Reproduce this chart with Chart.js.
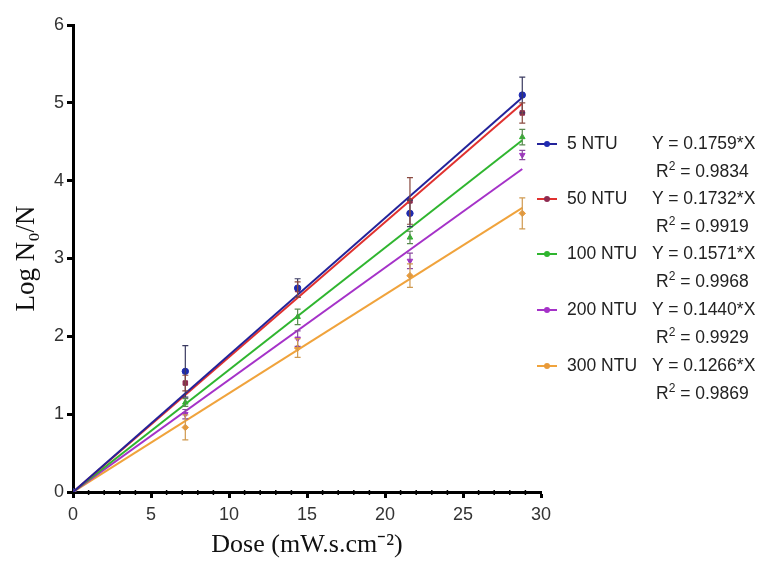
<!DOCTYPE html>
<html>
<head>
<meta charset="utf-8">
<script src="https://cdn.jsdelivr.net/npm/chart.js@4.4.1/dist/chart.umd.min.js"></script>
<style>
  html, body { margin: 0; padding: 0; background: #fff; }
  #wrap { position: relative; width: 759px; height: 565px; }
  #c { position: absolute; left: 0; top: 0; }
  .leg { position: absolute; font-family: "Liberation Sans", Arial, sans-serif; font-size: 17.5px; color: #222; white-space: nowrap; }
  .mk { position: absolute; width: 20px; height: 2px; }
  .dot { position: absolute; width: 6px; height: 6px; border-radius: 50%; left: 7px; top: -2px; }
  sup { font-size: 12px; vertical-align: 7px; line-height: 0; }
</style>
</head>
<body>
<div id="wrap">
  <canvas id="c" width="759" height="565"></canvas>
  <div id="legend"></div>
</div>
<script>
// ---- data ----
const doses   = [0, 7.2, 14.4, 21.6, 28.8];
const seriesNames = ["5 NTU", "50 NTU", "100 NTU", "200 NTU", "300 NTU"];
const ntu5    = [0, 1.55, 2.62, 3.58, 5.10];
const ntu50   = [0, 1.40, 2.60, 3.74, 4.87];
const ntu100  = [0, 1.15, 2.25, 3.27, 4.56];
const ntu200  = [0, 1.00, 1.97, 2.97, 4.33];
const ntu300  = [0, 0.83, 1.85, 2.78, 3.58];
const err5    = [0, 0.33, 0.12, 0.17, 0.23];
const err50   = [0, 0.10, 0.10, 0.30, 0.13];
const err100  = [0, 0.05, 0.10, 0.08, 0.10];
const err200  = [0, 0.06, 0.10, 0.10, 0.06];
const err300  = [0, 0.16, 0.12, 0.15, 0.20];
const fitX    = [0, 28.8];
const fitEnd  = [5.07, 4.99, 4.52, 4.15, 3.65];
const equations = ["Y = 0.1759*X", "Y = 0.1732*X", "Y = 0.1571*X", "Y = 0.1440*X", "Y = 0.1266*X"];
const r2Values  = ["0.9834", "0.9919", "0.9968", "0.9929", "0.9869"];
const xTicks = [0, 5, 10, 15, 20, 25, 30];
const yTicks = [0, 1, 2, 3, 4, 5, 6];

// ---- styling ----
const lineColors  = ["#23239a", "#e0312f", "#2fb52f", "#a532c8", "#f0a33c"];
const pointColors = ["#1f2bb0", "#8e2a50", "#2fb52f", "#a532c8", "#e89a3a"];
const barColors   = ["#3a3a60", "#8a4a40", "#5a8a50", "#8a4aa0", "#d09a50"];
const pointStyles = ["circle", "rect", "triangle", "triangle", "rectRot"];
const pointRot    = [0, 0, 0, 180, 0];

const values = [ntu5, ntu50, ntu100, ntu200, ntu300];
const errors = [err5, err50, err100, err200, err300];

const datasets = [];
// fitted lines (index 0 drawn on top)
for (let i = 0; i < 5; i++) {
  datasets.push({
    type: 'line',
    label: seriesNames[i] + ' fit',
    data: fitX.map((x, k) => ({ x: x, y: k === 0 ? 0 : fitEnd[i] })),
    borderColor: lineColors[i],
    borderWidth: 2,
    pointRadius: 0,
    fill: false,
    order: i
  });
}
for (let i = 0; i < 5; i++) {
  datasets.push({
    type: 'scatter',
    label: seriesNames[i],
    data: doses.map((x, k) => ({ x: x, y: values[i][k] })),
    errors: errors[i],
    errColor: barColors[i],
    backgroundColor: pointColors[i],
    borderColor: pointColors[i],
    pointStyle: pointStyles[i],
    rotation: pointRot[i],
    pointRadius: 3.2,
    order: 5 + i
  });
}

const errorBars = {
  id: 'errorBars',
  afterDatasetsDraw(chart) {
    const ctx = chart.ctx;
    const xs = chart.scales.x, ys = chart.scales.y;
    chart.data.datasets.forEach(ds => {
      if (!ds.errors) return;
      ctx.save();
      ctx.strokeStyle = ds.errColor;
      ctx.lineWidth = 1.2;
      ds.data.forEach((p, k) => {
        const e = ds.errors[k];
        if (!e) return;
        const px = xs.getPixelForValue(p.x);
        const top = ys.getPixelForValue(p.y + e);
        const bot = ys.getPixelForValue(p.y - e);
        ctx.beginPath();
        ctx.moveTo(px, top); ctx.lineTo(px, bot);
        ctx.moveTo(px - 3, top); ctx.lineTo(px + 3, top);
        ctx.moveTo(px - 3, bot); ctx.lineTo(px + 3, bot);
        ctx.stroke();
      });
      ctx.restore();
    });
  }
};

const minorTicks = {
  id: 'minorTicks',
  afterDraw(chart) {
    const ctx = chart.ctx;
    const xs = chart.scales.x;
    const y0 = chart.chartArea.bottom;
    ctx.save();
    ctx.strokeStyle = '#000';
    ctx.lineWidth = 1.5;
    for (let v = xs.min + 1; v < xs.max; v++) {
      if (v % 5 === 0) continue;
      const px = xs.getPixelForValue(v);
      ctx.beginPath();
      ctx.moveTo(px, y0 - 2); ctx.lineTo(px, y0 + 3);
      ctx.stroke();
    }
    ctx.restore();
  }
};

Chart.defaults.font.family = '"Liberation Sans", Arial, sans-serif';
Chart.defaults.color = '#333';

new Chart(document.getElementById('c'), {
  data: { datasets },
  options: {
    responsive: false,
    animation: false,
    layout: { padding: { left: 0, top: 25, right: 218, bottom: 0 } },
    plugins: { legend: { display: false }, tooltip: { enabled: false } },
    scales: {
      x: {
        type: 'linear', min: 0, max: 30,
        afterBuildTicks: s => { s.ticks = xTicks.map(v => ({ value: v })); },
        afterFit: s => { s.height = 73; },
        border: { color: '#000', width: 3 },
        grid: { drawOnChartArea: false, drawTicks: true, tickLength: 6, tickWidth: 3, tickColor: '#000' },
        ticks: { font: { size: 18 }, color: '#333', padding: 6, maxRotation: 0 },
        title: { display: true, text: 'Dose (mW.s.cm\u207B\u00B2)', font: { family: '"Liberation Serif", "Times New Roman", serif', size: 26 }, color: '#111', padding: { top: 0 } }
      },
      y: {
        type: 'linear', min: 0, max: 6,
        afterBuildTicks: s => { s.ticks = yTicks.map(v => ({ value: v })); },
        afterFit: s => { s.width = 73; },
        border: { color: '#000', width: 3 },
        grid: { drawOnChartArea: false, drawTicks: true, tickLength: 6, tickWidth: 3, tickColor: '#000' },
        ticks: { font: { size: 18 }, color: '#333', padding: 3 },
        title: { display: true, text: 'Log N\u2080/N', font: { family: '"Liberation Serif", "Times New Roman", serif', size: 27 }, color: '#111', padding: { top: 11, bottom: 0 } }
      }
    }
  },
  plugins: [errorBars, minorTicks]
});

// HTML legend with equations
const legend = document.getElementById('legend');
const rowTops = [133, 188, 243, 299, 355];
for (let i = 0; i < 5; i++) {
  const t = rowTops[i];
  legend.insertAdjacentHTML('beforeend',
    `<div class="mk" style="left:537px;top:${t + 10}px;background:${lineColors[i]}"><div class="dot" style="background:${pointColors[i]}"></div></div>` +
    `<div class="leg" style="left:567px;top:${t}px">${seriesNames[i]}</div>` +
    `<div class="leg" style="left:652px;top:${t}px">${equations[i]}</div>` +
    `<div class="leg" style="left:656px;top:${t + 28}px">R<sup>2</sup> = ${r2Values[i]}</div>`);
}
</script>
</body>
</html>
